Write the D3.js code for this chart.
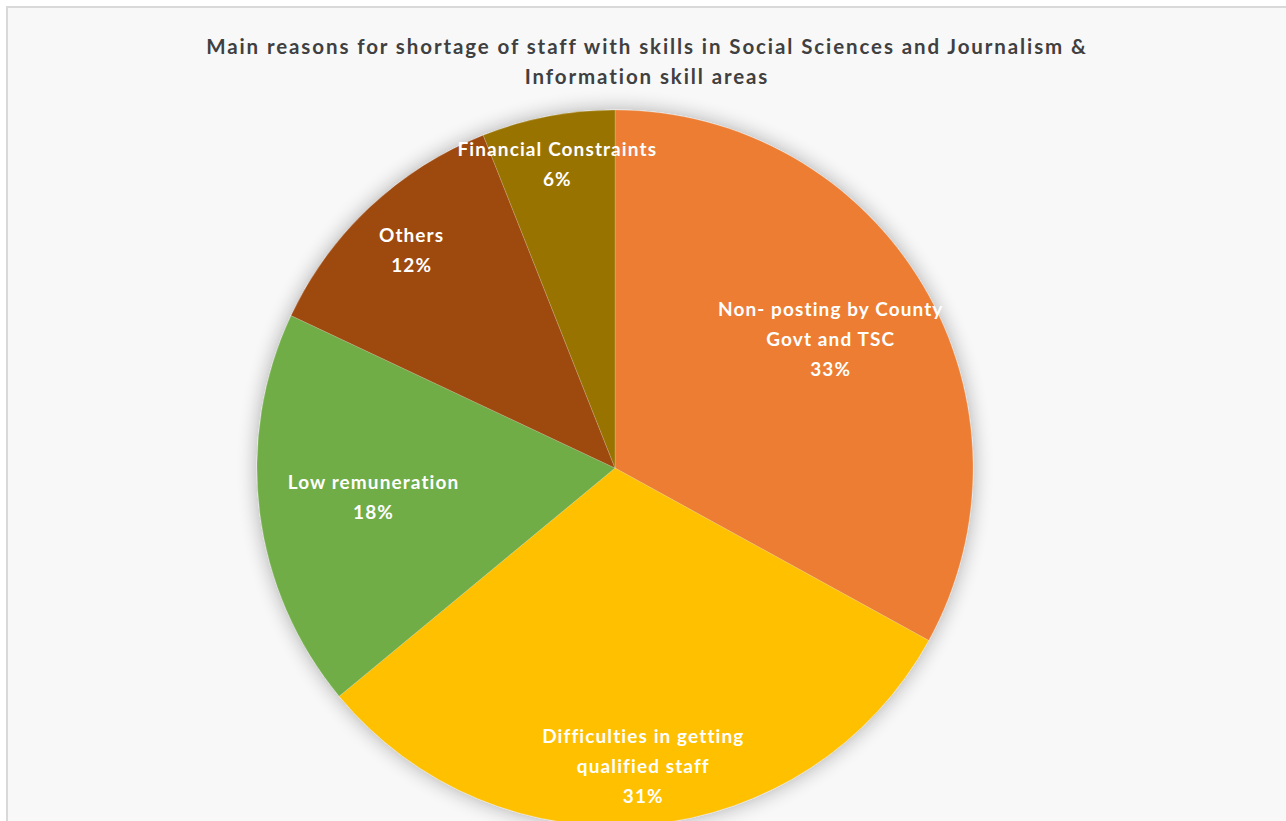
<!DOCTYPE html>
<html>
<head>
<meta charset="utf-8">
<script src="https://cdn.jsdelivr.net/npm/d3@7"></script>
<style>
  html, body { margin: 0; padding: 0; background: #ffffff; }
  svg { display: block; }
</style>
</head>
<body>
<svg id="chart" width="1286" height="821"></svg>
<script>
// Reasons for staff shortage (share of responses, %)
const categories = [
  "Non- posting by County Govt and TSC",
  "Difficulties in getting qualified staff",
  "Low remuneration",
  "Others",
  "Financial Constraints"
];
const values = [33, 31, 18, 12, 6];
const valueLabels = ["33%", "31%", "18%", "12%", "6%"];
// Wrapped label lines as they appear inside each slice
const labelLines = [
  ["Non- posting by County", "Govt and TSC"],
  ["Difficulties in getting", "qualified staff"],
  ["Low remuneration"],
  ["Others"],
  ["Financial Constraints"]
];
const colors = ["#ED7D31", "#FFC000", "#70AD47", "#9E480E", "#997300"];
const titleLines = [
  "Main reasons for shortage of staff with skills in Social Sciences and Journalism &",
  "Information skill areas"
];

// Layout settings
const W = 1286, H = 821;
const cx = 615, cy = 468, R = 358;
const labelRadius = [0.70, 0.84, 0.68, 0.83, 0.86]; // label distance as a fraction of R
const lineGap = 30;

const svg = d3.select("#chart");

// Chart area background and frame
svg.append("rect")
  .attr("x", 7).attr("y", 7)
  .attr("width", W).attr("height", H)
  .attr("fill", "#f8f8f8")
  .attr("stroke", "#d9d9d9")
  .attr("stroke-width", 2);

// Soft glow behind the pie
const defs = svg.append("defs");
const glow = defs.append("filter").attr("id", "glow")
  .attr("x", "-20%").attr("y", "-20%").attr("width", "140%").attr("height", "140%");
glow.append("feGaussianBlur").attr("in", "SourceAlpha").attr("stdDeviation", 10).attr("result", "blur");
glow.append("feComponentTransfer").attr("in", "blur").attr("result", "shade")
  .append("feFuncA").attr("type", "linear").attr("slope", 0.32);
const merge = glow.append("feMerge");
merge.append("feMergeNode").attr("in", "shade");
merge.append("feMergeNode").attr("in", "SourceGraphic");

// Title
svg.append("g")
  .selectAll("text")
  .data(titleLines)
  .join("text")
  .attr("x", 647)
  .attr("y", (d, i) => 54 + i * 30)
  .attr("text-anchor", "middle")
  .attr("font-family", "Lato, 'Open Sans', sans-serif")
  .attr("font-weight", "bold")
  .attr("font-size", 20.5)
  .attr("letter-spacing", 1.9)
  .attr("fill", "#404040")
  .text(d => d);

// Pie
const pie = d3.pie().sort(null).value(d => d)
  .startAngle(0).endAngle(2 * Math.PI);
const arcs = pie(values);
const arc = d3.arc().innerRadius(0).outerRadius(R);

const g = svg.append("g").attr("transform", `translate(${cx},${cy})`);

g.append("g").attr("filter", "url(#glow)")
  .selectAll("path")
  .data(arcs)
  .join("path")
  .attr("d", arc)
  .attr("fill", (d, i) => colors[i])
  .attr("stroke", "rgba(255,255,255,0.25)")
  .attr("stroke-width", 0.7);

// Slice labels: category lines followed by the percentage
const labels = g.append("g")
  .selectAll("g")
  .data(arcs)
  .join("g")
  .attr("transform", (d, i) => {
    const r = R * labelRadius[i];
    const [x, y] = d3.arc().innerRadius(r).outerRadius(r).centroid(d);
    return `translate(${x},${y})`;
  });

labels.each(function(d, i) {
  const lines = labelLines[i].concat([valueLabels[i]]);
  const n = lines.length;
  d3.select(this).selectAll("text")
    .data(lines)
    .join("text")
    .attr("x", 0)
    .attr("y", (t, j) => (j - (n - 1) / 2) * lineGap - 1)
    .attr("dy", "0.35em")
    .attr("text-anchor", "middle")
    .attr("font-family", "Lato, 'Open Sans', sans-serif")
    .attr("font-weight", "bold")
    .attr("font-size", 19)
    .attr("letter-spacing", 1.1)
    .attr("fill", "#ffffff")
    .text(t => t);
});
</script>
</body>
</html>
